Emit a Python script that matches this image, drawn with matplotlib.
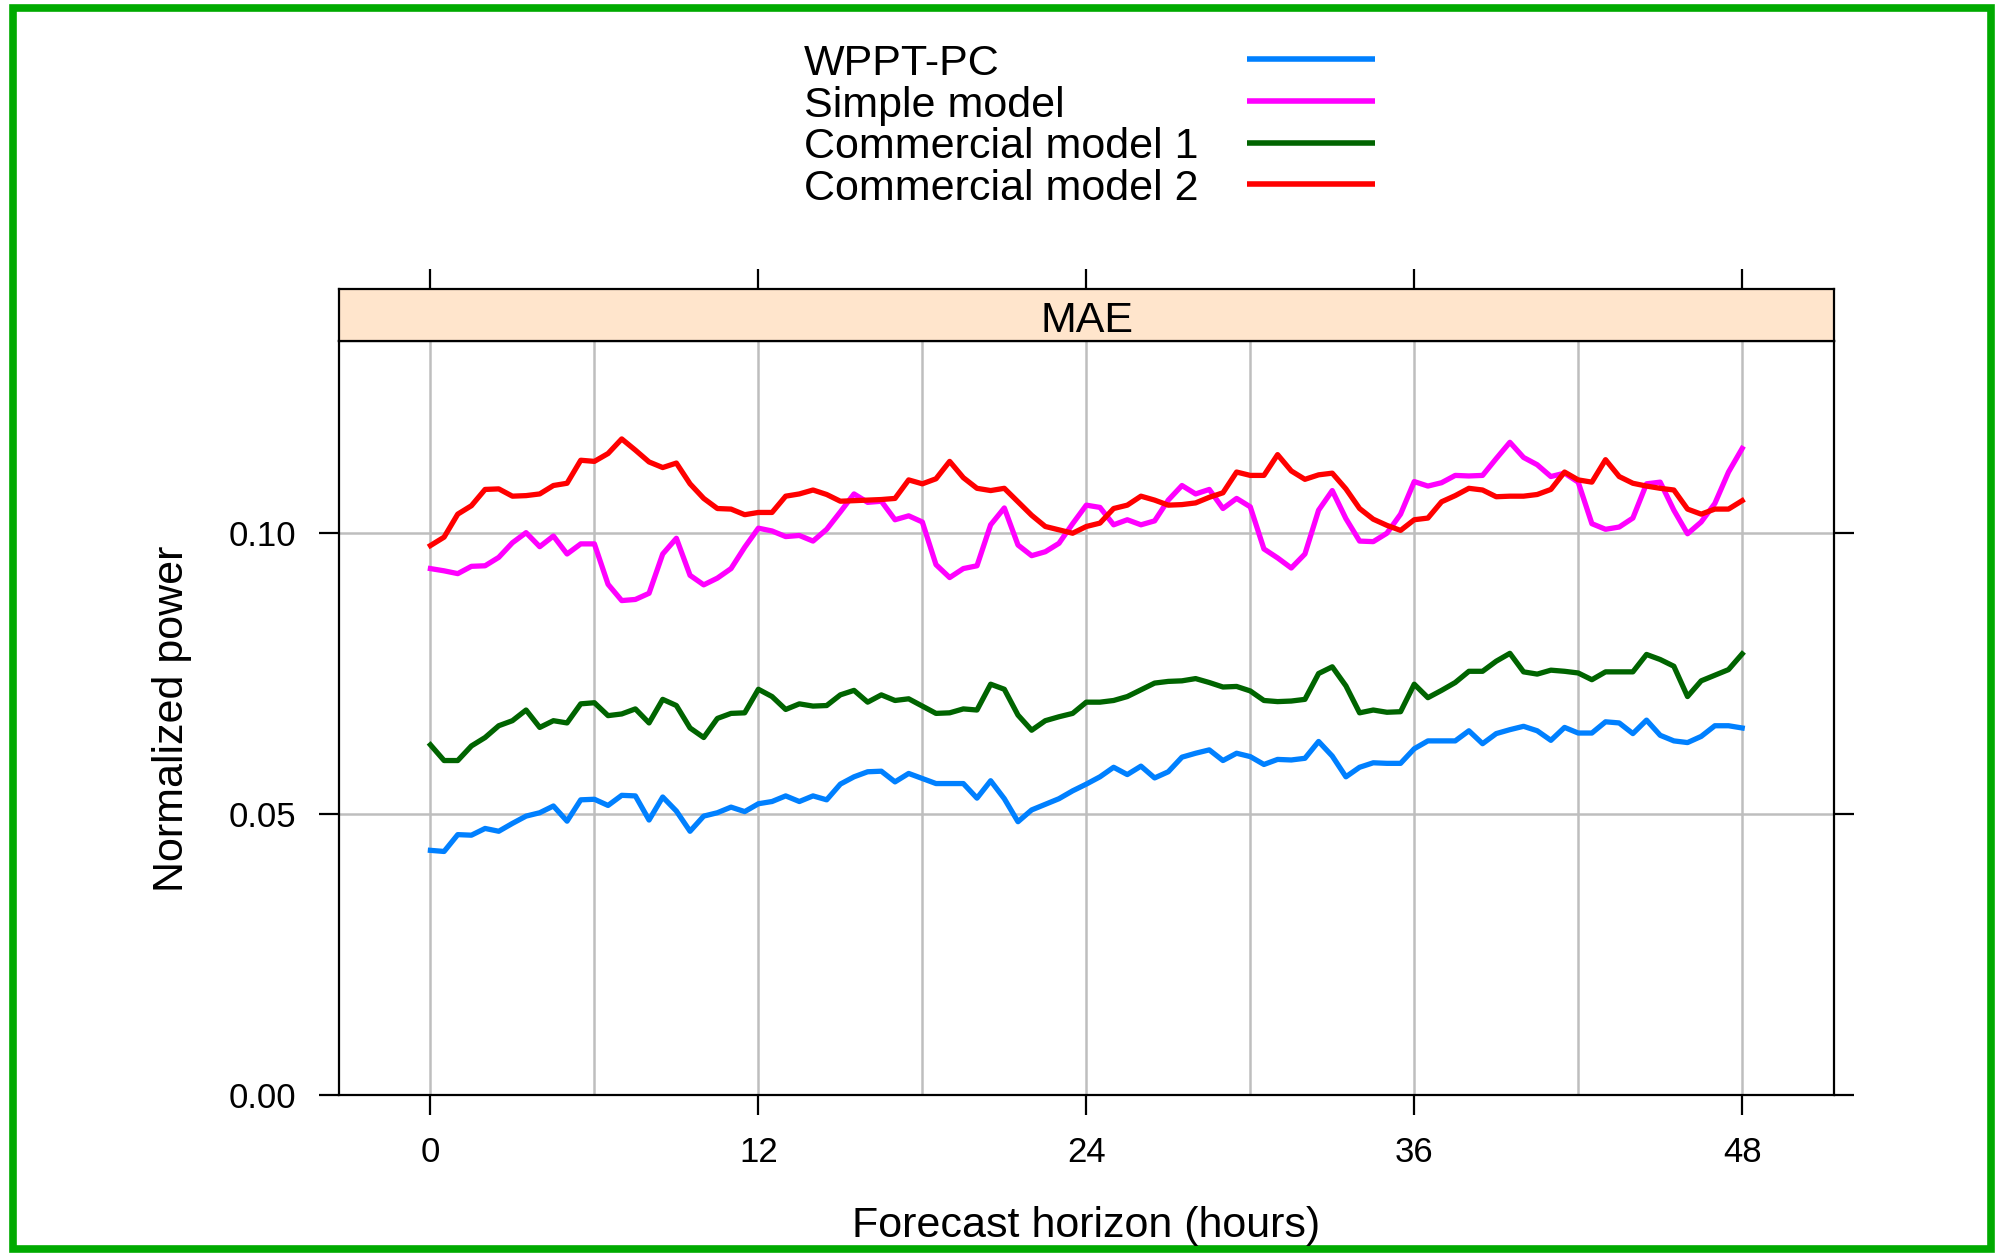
import numpy as np
import matplotlib
matplotlib.use('Agg')
import matplotlib.pyplot as plt
from matplotlib.lines import Line2D
from matplotlib.patches import Rectangle

plt.rcParams['font.family'] = ['Liberation Sans', 'DejaVu Sans']

# forecast horizon, half-hour steps 0 .. 48 h
hours = np.arange(97) * 0.5

wppt_pc = [0.0435, 0.0433, 0.0463, 0.0462, 0.0474, 0.0469, 0.0483, 0.0496, 0.0502, 0.0514, 0.0487, 0.0525,
           0.0526, 0.0515, 0.0533, 0.0532, 0.0489, 0.0530, 0.0505, 0.0469, 0.0496, 0.0502, 0.0512, 0.0504,
           0.0518, 0.0522, 0.0532, 0.0522, 0.0532, 0.0525, 0.0553, 0.0566, 0.0575, 0.0576, 0.0557, 0.0572,
           0.0563, 0.0554, 0.0554, 0.0554, 0.0528, 0.0559, 0.0527, 0.0486, 0.0507, 0.0517, 0.0527, 0.0541,
           0.0553, 0.0566, 0.0583, 0.0570, 0.0585, 0.0564, 0.0575, 0.0601, 0.0608, 0.0614, 0.0595, 0.0608,
           0.0602, 0.0588, 0.0597, 0.0596, 0.0599, 0.0629, 0.0603, 0.0566, 0.0583, 0.0591, 0.0590, 0.0590,
           0.0616, 0.0630, 0.0630, 0.0630, 0.0648, 0.0625, 0.0643, 0.0650, 0.0656, 0.0648, 0.0631, 0.0654,
           0.0644, 0.0644, 0.0664, 0.0662, 0.0643, 0.0667, 0.0640, 0.0630, 0.0627, 0.0638, 0.0657, 0.0657,
           0.0653]

simple = [0.0937, 0.0933, 0.0928, 0.0941, 0.0942, 0.0957, 0.0983, 0.1001, 0.0976, 0.0995, 0.0963, 0.0981,
          0.0981, 0.0909, 0.0880, 0.0882, 0.0893, 0.0963, 0.0991, 0.0925, 0.0908, 0.0920, 0.0937, 0.0975,
          0.1009, 0.1004, 0.0994, 0.0996, 0.0986, 0.1007, 0.1038, 0.1070, 0.1055, 0.1057, 0.1024, 0.1031,
          0.1020, 0.0944, 0.0921, 0.0937, 0.0942, 0.1015, 0.1045, 0.0979, 0.0960, 0.0967, 0.0982, 0.1017,
          0.1050, 0.1046, 0.1015, 0.1024, 0.1015, 0.1022, 0.1059, 0.1085, 0.1070, 0.1078, 0.1044, 0.1062,
          0.1047, 0.0972, 0.0956, 0.0938, 0.0963, 0.1041, 0.1076, 0.1026, 0.0986, 0.0985, 0.1000, 0.1034,
          0.1092, 0.1084, 0.1090, 0.1103, 0.1102, 0.1103, 0.1133, 0.1162, 0.1135, 0.1122, 0.1101, 0.1107,
          0.1091, 0.1017, 0.1007, 0.1011, 0.1027, 0.1088, 0.1091, 0.1041, 0.0999, 0.1020, 0.1053, 0.1109,
          0.1151]

commercial1 = [0.0623, 0.0595, 0.0595, 0.0621, 0.0636, 0.0657, 0.0666, 0.0685, 0.0654, 0.0666, 0.0662, 0.0696,
               0.0698, 0.0675, 0.0678, 0.0687, 0.0662, 0.0704, 0.0693, 0.0653, 0.0636, 0.0670, 0.0679, 0.0680,
               0.0722, 0.0709, 0.0686, 0.0696, 0.0692, 0.0693, 0.0712, 0.0720, 0.0699, 0.0712, 0.0702, 0.0705,
               0.0692, 0.0679, 0.0680, 0.0687, 0.0685, 0.0731, 0.0722, 0.0676, 0.0649, 0.0666, 0.0673, 0.0679,
               0.0699, 0.0699, 0.0702, 0.0709, 0.0721, 0.0733, 0.0736, 0.0737, 0.0741, 0.0734, 0.0726, 0.0727,
               0.0719, 0.0702, 0.0700, 0.0701, 0.0704, 0.0750, 0.0762, 0.0728, 0.0680, 0.0685, 0.0681, 0.0682,
               0.0731, 0.0707, 0.0720, 0.0734, 0.0754, 0.0754, 0.0772, 0.0786, 0.0753, 0.0749, 0.0756, 0.0754,
               0.0751, 0.0739, 0.0753, 0.0753, 0.0753, 0.0784, 0.0775, 0.0763, 0.0709, 0.0737, 0.0747, 0.0757,
               0.0785]

commercial2 = [0.0978, 0.0993, 0.1034, 0.1049, 0.1078, 0.1079, 0.1066, 0.1067, 0.1070, 0.1085, 0.1089, 0.1130,
               0.1128, 0.1142, 0.1168, 0.1148, 0.1127, 0.1117, 0.1125, 0.1088, 0.1062, 0.1044, 0.1043, 0.1033,
               0.1037, 0.1037, 0.1066, 0.1070, 0.1077, 0.1069, 0.1057, 0.1058, 0.1059, 0.1060, 0.1062, 0.1095,
               0.1088, 0.1097, 0.1128, 0.1099, 0.1080, 0.1076, 0.1080, 0.1056, 0.1032, 0.1012, 0.1006, 0.1000,
               0.1012, 0.1018, 0.1044, 0.1050, 0.1066, 0.1059, 0.1050, 0.1051, 0.1054, 0.1064, 0.1072, 0.1109,
               0.1103, 0.1103, 0.1140, 0.1111, 0.1096, 0.1104, 0.1107, 0.1079, 0.1044, 0.1025, 0.1014, 0.1005,
               0.1024, 0.1027, 0.1056, 0.1067, 0.1080, 0.1077, 0.1065, 0.1066, 0.1066, 0.1069, 0.1078, 0.1109,
               0.1095, 0.1091, 0.1131, 0.1101, 0.1089, 0.1084, 0.1080, 0.1077, 0.1043, 0.1034, 0.1043, 0.1043,
               0.1058]

names  = ['WPPT-PC', 'Simple model', 'Commercial model 1', 'Commercial model 2']
colors = ['#0080ff', '#ff00ff', '#006400', '#ff0000']
series = [wppt_pc, simple, commercial1, commercial2]

xticks = [0, 12, 24, 36, 48]
yticks = [0.00, 0.05, 0.10]
ytick_labels = ['0.00', '0.05', '0.10']

W, H = 2001, 1253
fig = plt.figure(figsize=(W / 100, H / 100), dpi=100)

def fx(px):
  return px / W

def fy(py):
  return 1 - py / H

left, right = 338.6, 1834.0
ptop, pbot, stop = 340.7, 1094.5, 289.0

ax = fig.add_axes([fx(left), fy(pbot), fx(right) - fx(left), fy(ptop) - fy(pbot)])
strip = fig.add_axes([fx(left), fy(ptop), fx(right) - fx(left), fy(stop) - fy(ptop)])

ax.set_xlim(-3.36, 51.36)
ax.set_ylim(0, 0.1343)

for x in range(0, 49, 6):
  ax.axvline(x, color='#bebebe', lw=1.8, zorder=0)
for y in yticks:
  ax.axhline(y, color='#bebebe', lw=1.8, zorder=0)

for vals, col in zip(series, colors):
  ax.plot(hours, vals, color=col, lw=3.8)

ax.set_xticks(xticks)
ax.set_yticks(yticks)
ax.set_yticklabels(ytick_labels)
ax.tick_params(direction='out', length=14.7, width=1.6, labelsize=25)
ax.tick_params(axis='y', right=True, pad=16)
ax.tick_params(axis='x', pad=15)
for sp in ax.spines.values():
  sp.set_linewidth(1.6)

strip.set_facecolor('#ffe5cc')
strip.set_xlim(-3.36, 51.36)
strip.set_xticks(xticks)
strip.set_yticks([])
strip.tick_params(axis='x', bottom=False, top=True, labelbottom=False, labeltop=False,
                  direction='out', length=14.7, width=1.6)
for sp in strip.spines.values():
  sp.set_linewidth(1.6)
fig.text(fx(1087), fy(331.7), 'MAE', ha='center', va='baseline', fontsize=31)

# key above the panel: text on the left, line sample on the right
for i, (name, col) in enumerate(zip(names, colors)):
  fig.text(fx(804), fy(75 + 41.6 * i), name, ha='left', va='baseline', fontsize=31)
  yl = fy(59.3 + 41.6 * i)
  fig.add_artist(Line2D([fx(1247.4), fx(1374.5)], [yl, yl], transform=fig.transFigure,
                        color=col, lw=4.0, solid_capstyle='butt'))

fig.text(fx(172), fy(719), 'Normalized power', rotation=90, ha='center', va='center', fontsize=31)
fig.text(fx(1086), fy(1237), 'Forecast horizon (hours)', ha='center', va='baseline', fontsize=31)

fig.add_artist(Rectangle((fx(13), fy(1249)), fx(1991) - fx(13), fy(7.5) - fy(1249),
                         transform=fig.transFigure, fill=False, edgecolor='#00aa00', lw=5.5))

plt.savefig('out.png', dpi=100)
